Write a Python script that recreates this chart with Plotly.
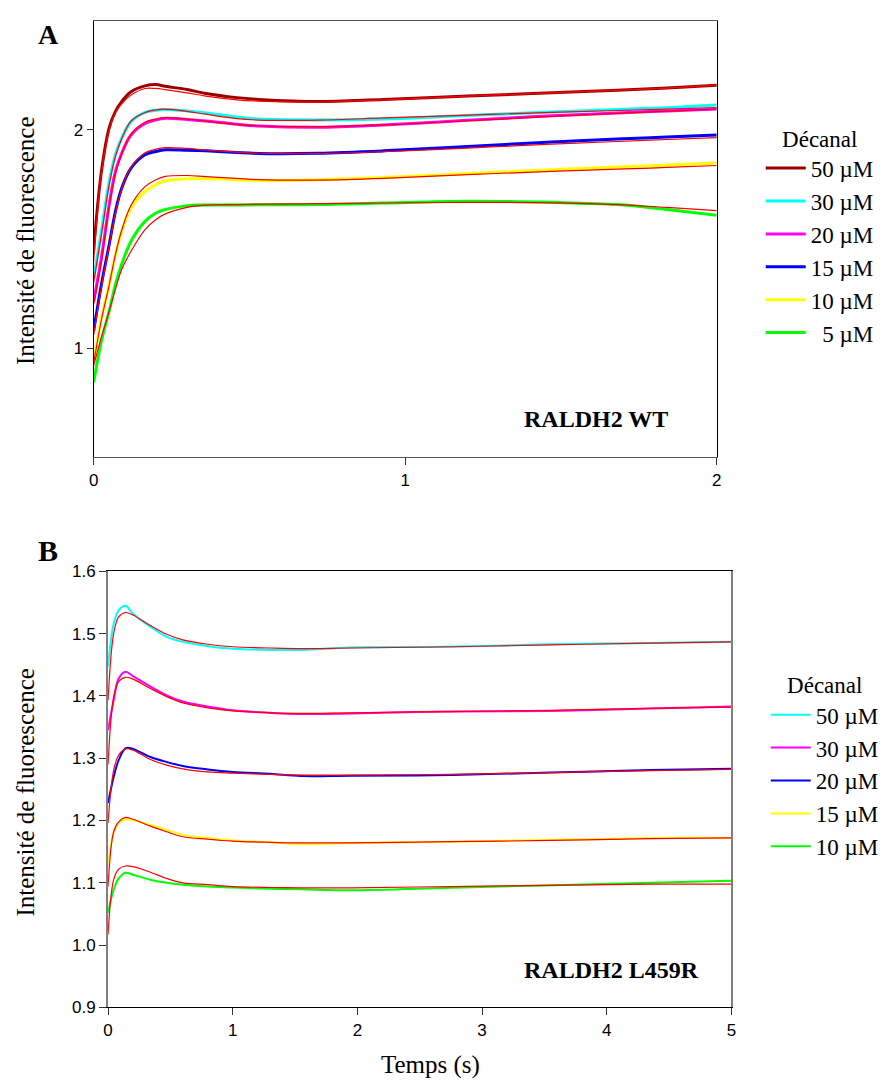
import plotly.graph_objects as go

# Panel A - RALDH2 WT (0-2 s)
t_wt = [0, 0.025, 0.05, 0.07, 0.09, 0.12, 0.165, 0.2, 0.23, 0.3, 0.36, 0.46, 0.53, 0.72, 0.93, 1.2, 1.47, 1.68, 1.84, 2.0]

wt_50 = [1.45, 1.81, 2.01, 2.085, 2.13, 2.175, 2.202, 2.208, 2.2, 2.185, 2.167, 2.148, 2.14, 2.13, 2.14, 2.155, 2.17, 2.182, 2.192, 2.205]
wt_50_fit = [1.40, 1.80, 2.0, 2.08, 2.12, 2.16, 2.19, 2.19, 2.185, 2.17, 2.155, 2.138, 2.132, 2.128, 2.138, 2.155, 2.17, 2.182, 2.192, 2.205]
wt_30 = [1.32, 1.536, 1.764, 1.886, 1.962, 2.038, 2.08, 2.09, 2.094, 2.087, 2.078, 2.059, 2.05, 2.046, 2.05, 2.066, 2.082, 2.094, 2.102, 2.114]
wt_30_fit = [1.30, 1.52, 1.75, 1.88, 1.96, 2.04, 2.08, 2.092, 2.095, 2.085, 2.072, 2.052, 2.045, 2.045, 2.055, 2.068, 2.08, 2.089, 2.095, 2.102]
wt_20 = [1.215, 1.414, 1.658, 1.81, 1.893, 1.977, 2.03, 2.046, 2.053, 2.048, 2.041, 2.026, 2.018, 2.012, 2.023, 2.044, 2.065, 2.078, 2.087, 2.096]
wt_20_fit = [1.20, 1.40, 1.65, 1.80, 1.89, 1.98, 2.035, 2.05, 2.056, 2.05, 2.04, 2.025, 2.018, 2.015, 2.023, 2.042, 2.062, 2.076, 2.086, 2.096]
wt_15 = [1.079, 1.292, 1.475, 1.627, 1.733, 1.825, 1.886, 1.901, 1.909, 1.907, 1.904, 1.896, 1.892, 1.893, 1.904, 1.924, 1.945, 1.958, 1.967, 1.977]
wt_15_fit = [1.06, 1.28, 1.47, 1.62, 1.73, 1.83, 1.895, 1.912, 1.919, 1.915, 1.908, 1.898, 1.893, 1.892, 1.9, 1.917, 1.935, 1.947, 1.956, 1.965]
wt_10 = [0.942, 1.14, 1.292, 1.429, 1.536, 1.642, 1.718, 1.749, 1.767, 1.776, 1.776, 1.772, 1.768, 1.772, 1.782, 1.8, 1.817, 1.83, 1.839, 1.848]
wt_10_fit = [0.93, 1.13, 1.29, 1.43, 1.54, 1.655, 1.74, 1.772, 1.787, 1.791, 1.786, 1.778, 1.772, 1.77, 1.778, 1.795, 1.81, 1.82, 1.828, 1.837]
wt_5 = [0.843, 1.033, 1.17, 1.292, 1.384, 1.49, 1.581, 1.619, 1.635, 1.653, 1.656, 1.656, 1.657, 1.658, 1.665, 1.673, 1.668, 1.658, 1.635, 1.609]
wt_5_fit = [0.92, 1.05, 1.17, 1.27, 1.36, 1.444, 1.543, 1.589, 1.615, 1.645, 1.655, 1.658, 1.66, 1.662, 1.665, 1.668, 1.666, 1.658, 1.645, 1.63]

# Panel B - RALDH2 L459R (0-5 s)
t_mut = [0, 0.045, 0.085, 0.14, 0.2, 0.34, 0.47, 0.6, 0.8, 1.0, 1.3, 1.55, 1.95, 2.75, 3.55, 4.35, 5.0]

mut_50 = [1.447, 1.516, 1.5375, 1.545, 1.532, 1.511, 1.495, 1.487, 1.48, 1.476, 1.474, 1.474, 1.478, 1.479, 1.483, 1.485, 1.487]
mut_50_fit = [1.393, 1.50, 1.527, 1.534, 1.53, 1.513, 1.499, 1.49, 1.483, 1.479, 1.477, 1.476, 1.477, 1.479, 1.482, 1.485, 1.487]
mut_30 = [1.345, 1.393, 1.428, 1.439, 1.432, 1.415, 1.401, 1.391, 1.383, 1.377, 1.373, 1.371, 1.372, 1.375, 1.376, 1.38, 1.383]
mut_30_fit = [1.29, 1.398, 1.423, 1.43, 1.427, 1.412, 1.399, 1.389, 1.381, 1.376, 1.373, 1.372, 1.373, 1.375, 1.377, 1.38, 1.382]
mut_20 = [1.228, 1.27, 1.297, 1.316, 1.315, 1.302, 1.294, 1.2875, 1.282, 1.278, 1.275, 1.2715, 1.272, 1.273, 1.277, 1.281, 1.283]
mut_20_fit = [1.196, 1.281, 1.305, 1.315, 1.313, 1.298, 1.289, 1.283, 1.278, 1.276, 1.274, 1.273, 1.273, 1.274, 1.277, 1.28, 1.282]
mut_15 = [1.129, 1.18, 1.196, 1.202, 1.201, 1.193, 1.185, 1.177, 1.172, 1.168, 1.165, 1.1625, 1.164, 1.166, 1.169, 1.172, 1.172]
mut_15_fit = [1.094, 1.182, 1.198, 1.205, 1.202, 1.191, 1.182, 1.174, 1.17, 1.167, 1.165, 1.164, 1.164, 1.166, 1.168, 1.171, 1.172]
mut_10 = [1.052, 1.089, 1.107, 1.116, 1.113, 1.105, 1.10, 1.097, 1.094, 1.0925, 1.0904, 1.0895, 1.088, 1.092, 1.096, 1.1, 1.1035]
mut_10_fit = [1.017, 1.105, 1.122, 1.127, 1.126, 1.117, 1.107, 1.10, 1.097, 1.094, 1.0925, 1.092, 1.092, 1.094, 1.096, 1.098, 1.098]

wt_labels = ["50 µM", "30 µM", "20 µM", "15 µM", "10 µM", "\u00a0\u00a05 µM"]
wt_colors = ["#990000", "#00ffff", "#ff00ff", "#0000ff", "#ffff00", "#00ff00"]
mut_labels = ["50 µM", "30 µM", "20 µM", "15 µM", "10 µM"]
mut_colors = ["#00ffff", "#ff00ff", "#0000ff", "#ffff00", "#00ff00"]

SERIF = "Liberation Serif"
SANS = "Liberation Sans"

# page has an 8px body margin; positions below are given in screen pixels
# and mapped back (small empirical correction for how the page is captured)
W, H, OFF = 878, 1070, 8
SX, BX, SY, BY = 0.988, 4.8, 0.983, 8.3


def px(x):
    return ((x - BX) / SX - OFF) / W


def py(y):
    return 1 - ((y - BY) / SY - OFF) / H


fig = go.Figure()

wt_data = [wt_50, wt_30, wt_20, wt_15, wt_10, wt_5]
wt_fits = [wt_50_fit, wt_30_fit, wt_20_fit, wt_15_fit, wt_10_fit, wt_5_fit]
for label, y, y_fit, color in zip(wt_labels, wt_data, wt_fits, wt_colors):
    fig.add_trace(go.Scatter(x=t_wt, y=y, mode="lines", name=label, legendgroup="a" + label,
                             line=dict(color=color, width=3, shape="spline"),
                             xaxis="x", yaxis="y", legend="legend"))
    fig.add_trace(go.Scatter(x=t_wt, y=y_fit, mode="lines", legendgroup="a" + label, showlegend=False,
                             line=dict(color="#ff0000", width=1.2, shape="spline"),
                             xaxis="x", yaxis="y"))

mut_data = [mut_50, mut_30, mut_20, mut_15, mut_10]
mut_fits = [mut_50_fit, mut_30_fit, mut_20_fit, mut_15_fit, mut_10_fit]
for label, y, y_fit, color in zip(mut_labels, mut_data, mut_fits, mut_colors):
    fig.add_trace(go.Scatter(x=t_mut, y=y, mode="lines", name=label, legendgroup="b" + label,
                             line=dict(color=color, width=2, shape="spline"),
                             xaxis="x2", yaxis="y2", legend="legend2"))
    fig.add_trace(go.Scatter(x=t_mut, y=y_fit, mode="lines", legendgroup="b" + label, showlegend=False,
                             line=dict(color="#ff0000", width=1.2, shape="spline"),
                             xaxis="x2", yaxis="y2"))

tick_font = dict(family=SANS, size=17, color="black")
legend_font = dict(family=SERIF, size=23, color="black")
legend_style = dict(
    xanchor="left", yanchor="top",
    font=legend_font,
    bgcolor="rgba(0,0,0,0)",
    tracegroupgap=0,
    itemwidth=40,
)

fig.update_layout(
    width=W, height=H,
    margin=dict(l=0, r=0, t=0, b=0),
    plot_bgcolor="white", paper_bgcolor="white",
    xaxis=dict(domain=[px(93.3), px(716)], range=[0, 2], anchor="y", tickvals=[0, 1, 2],
               showline=True, linecolor="#555555", mirror=True, ticks="outside", ticklen=7,
               tickcolor="#333333", showgrid=False, zeroline=False, tickfont=tick_font),
    yaxis=dict(domain=[py(456.7), py(20)], range=[0.5, 2.5], anchor="x", tickvals=[1, 2],
               showline=True, linecolor="black", mirror=True, ticks="outside", ticklen=6,
               tickcolor="#333333", showgrid=False, zeroline=False, tickfont=tick_font),
    xaxis2=dict(domain=[px(107.7), px(730.7)], range=[0, 5], anchor="y2", dtick=1,
                showline=True, linecolor="black", mirror=True, ticks="outside", ticklen=7,
                tickcolor="#333333", showgrid=False, zeroline=False, tickfont=tick_font),
    yaxis2=dict(domain=[py(1007.3), py(571)], range=[0.9, 1.6], anchor="x2", dtick=0.1, tickformat=".1f",
                showline=True, linecolor="#808080", linewidth=2, mirror=True, ticks="outside", ticklen=7,
                tickcolor="#333333", showgrid=False, zeroline=False, tickfont=tick_font),
    legend=dict(x=px(760), y=py(116), title=dict(text="Décanal", side="top center", font=legend_font),
                **legend_style),
    legend2=dict(x=px(765), y=py(663), title=dict(text="Décanal", side="top center", font=legend_font),
                 **legend_style),
)

# panel letter A sits against the very top of the figure
fig.add_annotation(text="<b>A</b>", x=px(48), y=1, xref="paper", yref="paper",
                   xanchor="center", yanchor="top", showarrow=False,
                   font=dict(family=SERIF, size=28, color="black"))

annotations = [
    ("<b>B</b>", 48, 550, 30),
    ("<b>RALDH2 WT</b>", 595, 418, 24),
    ("<b>RALDH2 L459R</b>", 611, 970, 24),
    ("Temps (s)", 430, 1065, 25),
]
for text, x, y, size in annotations:
    fig.add_annotation(text=text, x=px(x), y=py(y), xref="paper", yref="paper",
                       xanchor="center", yanchor="middle", showarrow=False,
                       font=dict(family=SERIF, size=size, color="black"))

for yc in [240, 792]:
    fig.add_annotation(text="Intensité de fluorescence", x=px(25), y=py(yc), xref="paper", yref="paper",
                       textangle=-90, xanchor="center", yanchor="middle", showarrow=False,
                       font=dict(family=SERIF, size=25, color="black"))

fig.write_html("out.html")
